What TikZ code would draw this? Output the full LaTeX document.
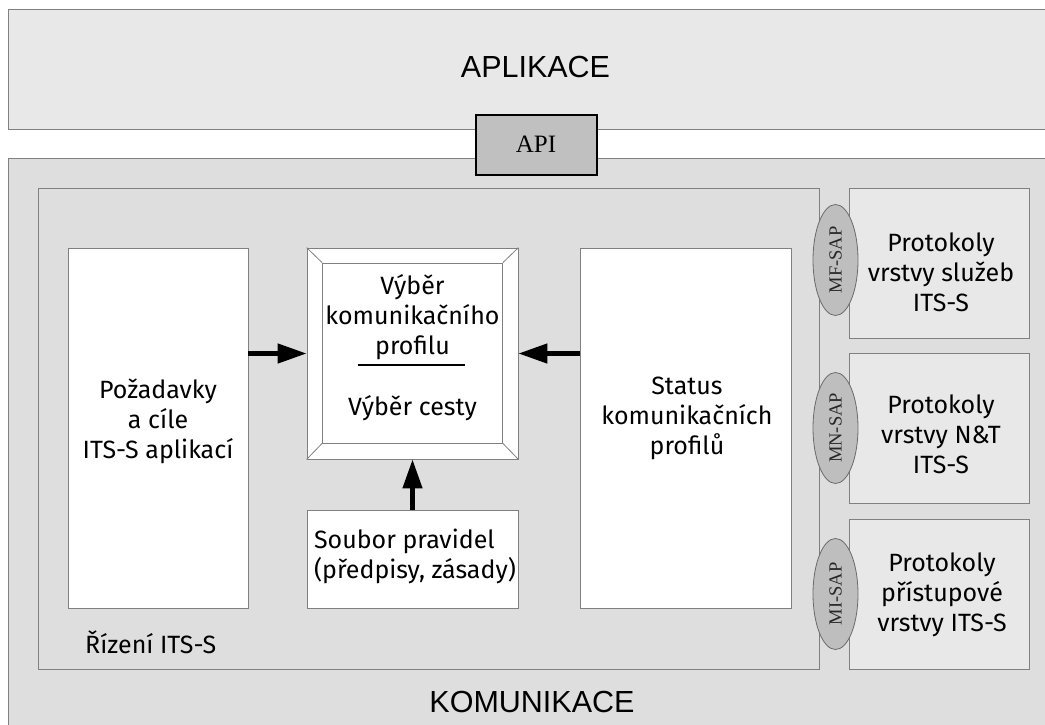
\documentclass[tikz,border=0pt]{standalone}
\usepackage{fontspec}
\setmainfont{Fira Sans}
\newfontfamily\headfont{Liberation Sans}
\newfontfamily\apifont{Liberation Serif}
\usetikzlibrary{arrows.meta,shapes.geometric}
\definecolor{appfill}{HTML}{E8E8E8}
\definecolor{komfill}{HTML}{DEDEDE}
\definecolor{boxline}{HTML}{808080}
\definecolor{apifill}{HTML}{C0C0C0}
\definecolor{sapfill}{HTML}{BEBEBE}
\definecolor{sapline}{HTML}{6A6A6A}
\definecolor{protfill}{HTML}{E8E8E8}
\newcommand\boxfs{\fontsize{25}{30}\selectfont}
\newcommand\headfs{\fontsize{30.5}{36}\selectfont\headfont}
\begin{document}
\begin{tikzpicture}[x=1pt,y=-1pt,
  layerbox/.style={draw=boxline,line width=0.9pt},
  plainbox/.style={draw=boxline,line width=0.8pt,fill=white,rectangle,inner sep=0pt},
  protbox/.style={draw=boxline,line width=0.8pt,fill=protfill,rectangle,inner sep=0pt,minimum width=180pt,minimum height=150pt},
  txt/.style={align=center,font=\boxfs,inner sep=0pt},
  sap/.style={ellipse,draw=sapline,line width=0.8pt,fill=sapfill,minimum width=111pt,minimum height=45pt,inner sep=0pt,rotate=90,font=\fontsize{18.5}{20}\selectfont\apifont,text=black!85},
  arr/.style={line width=4.5pt,-{Triangle[length=29pt,width=19pt]}}
]
\useasboundingbox (0,0) rectangle (1045,724);
\clip (0,0) rectangle (1045,724);
\fill[white] (0,0) rectangle (1045,724);

% layers
\draw[layerbox,fill=appfill] (8,9) rectangle (1070,129);
\node[font=\headfs,anchor=base,inner sep=0pt] (aplikace) at (535.5,77) {APLIKACE};
\draw[layerbox,fill=komfill] (8,158) rectangle (1070,760);
\node[font=\headfs,anchor=base,inner sep=0pt] (komunikace) at (532,712) {KOMUNIKACE};

% API
\node[draw=black,line width=2pt,fill=apifill,minimum width=121pt,minimum height=60pt,inner sep=0pt,
      font=\fontsize{25}{30}\selectfont\apifont] (api) at (536,144.5) {API};

% management box
\node[layerbox,fill=komfill,rectangle,inner sep=0pt,minimum width=781pt,minimum height=481pt] (mgmt) at (428.5,428.5) {};
\node[font=\boxfs,anchor=base west,inner sep=0pt] (rizeni) at (85,653) {Řízení ITS-S};

% requirements
\node[plainbox,minimum width=180pt,minimum height=360pt] (req) at (158,428) {};
\node[txt] (reqtext) at (158,421) {Požadavky\\a cíle\\ITS-S aplikací};

% selection (bevelled)
\node[plainbox,minimum width=211pt,minimum height=211pt] (sel) at (412.5,353.5) {};
\node[plainbox,minimum width=180pt,minimum height=180pt] (selin) at (412.5,353) {};
\draw[boxline,line width=0.8pt] (sel.north west) -- (selin.north west)
  (sel.north east) -- (selin.north east)
  (sel.south west) -- (selin.south west)
  (sel.south east) -- (selin.south east);
\node[txt] (seltop) at (412.5,317) {Výběr\\komunikačního\\profilu};
\coordinate (ruleL) at (358,365);
\coordinate (ruleR) at (465,365);
\draw[black,line width=1.2pt] (ruleL) -- (ruleR);
\node[txt] (selbot) at (412.5,408) {Výběr cesty};

% status
\node[plainbox,minimum width=211pt,minimum height=360pt] (stat) at (685.5,428) {};
\node[txt] (stattext) at (687,418) {Status\\komunikačních\\profilů};

% rules
\node[plainbox,minimum width=211pt,minimum height=98pt] (rules) at (412.5,559) {};
\node[txt,align=left] (rulestext) at (415,556) {Soubor pravidel\\(předpisy, zásady)};

% arrows
\draw[arr] (req.east |- sel.west) -- (sel.west);
\draw[arr] (stat.west |- sel.east) -- (sel.east);
\draw[arr] (rules.north) -- (sel.south);

% protocol boxes
\node[protbox] (fac) at (939,263) {};
\node[txt] (factext) at (941,272) {Protokoly\\vrstvy služeb\\ITS-S};
\node[protbox] (net) at (939,428.5) {};
\node[txt] (nettext) at (941,434) {Protokoly\\vrstvy N\&T\\ITS-S};
\node[protbox] (acc) at (939,594) {};
\node[txt] (acctext) at (942,595) {Protokoly\\přístupové\\vrstvy ITS-S};

% SAPs
\node[sap] (mfsap) at (835.5,260) {MF-SAP};
\node[sap] (mnsap) at (835.5,428) {MN-SAP};
\node[sap] (misap) at (835.5,594) {MI-SAP};
\end{tikzpicture}
\end{document}
